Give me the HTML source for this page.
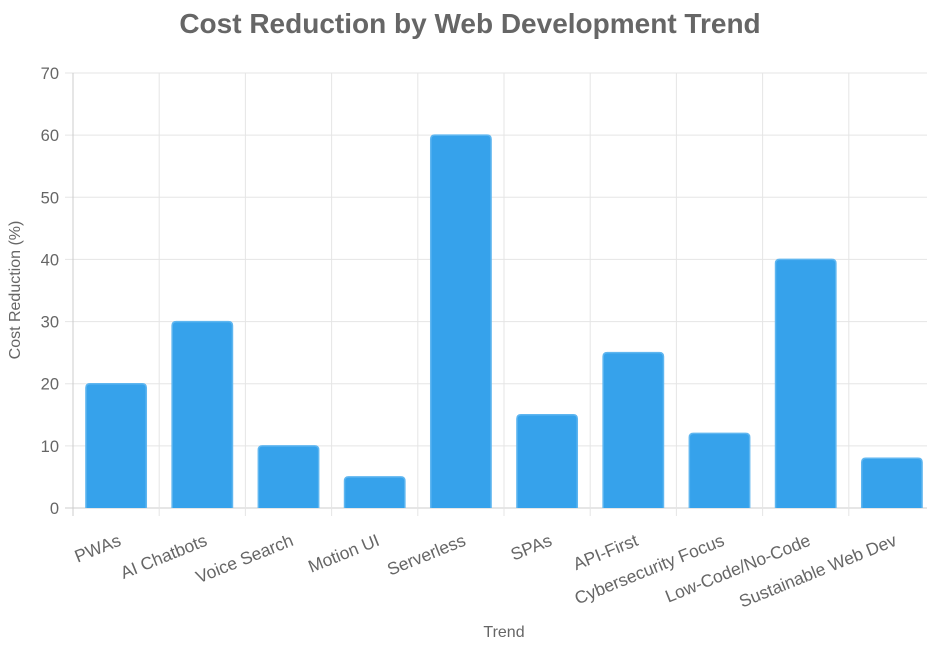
<!DOCTYPE html>
<html><head><meta charset="utf-8"><style>
html,body{margin:0;padding:0;background:#fff;}
svg{display:block;font-family:"Liberation Sans",Arial,sans-serif;}
</style></head><body>
<svg id="chart" width="927" height="646">
<text x="470" y="33" text-anchor="middle" font-size="28" font-weight="bold" fill="#666">Cost Reduction by Web Development Trend</text>
<g id="grid"></g><g id="bars"></g><g id="labels"></g>
<text transform="translate(20,290) rotate(-90)" text-anchor="middle" font-size="16" fill="#666">Cost Reduction (%)</text>
<text x="504" y="637" text-anchor="middle" font-size="16" fill="#666">Trend</text>
</svg>
<script>
const categories=["PWAs","AI Chatbots","Voice Search","Motion UI","Serverless","SPAs","API-First","Cybersecurity Focus","Low-Code/No-Code","Sustainable Web Dev"];
const values=[20,30,10,5,60,15,25,12,40,8];
const yTicks=[0,10,20,30,40,50,60,70];
const NS="http://www.w3.org/2000/svg";
const L=73,R=935,T=73,B=508,yMax=70;
const bw=(R-L)/categories.length;
const y=v=>B-(v/yMax)*(B-T);
const x=i=>L+i*bw;
function mk(tag,attrs,parent){const e=document.createElementNS(NS,tag);for(const k in attrs)e.setAttribute(k,attrs[k]);parent.appendChild(e);return e;}
const g=document.getElementById('grid'),gb=document.getElementById('bars'),gl=document.getElementById('labels');
yTicks.forEach(t=>{
 const ln=mk('line',{x1:L-8,x2:R,y1:y(t),y2:y(t),stroke:t===0?'#ccc':'#e5e5e5','stroke-width':1},g);
 
 
 const tx=mk('text',{x:L-14,y:y(t)+6,'text-anchor':'end','font-size':16.5,fill:'#666'},gl);
 tx.textContent=t;
 
 
});
for(let i=0;i<=categories.length;i++){
 const ln=mk('line',{x1:x(i),x2:x(i),y1:T,y2:B+8,stroke:i===0?'#ccc':'#e5e5e5','stroke-width':1},g);
 
 
}
categories.forEach((c,i)=>{
 const w=bw*0.7,bx=x(i)+(bw-w)/2;
 const r=mk('path',{d:`M${bx},${B} V${y(values[i])+4} Q${bx},${y(values[i])} ${bx+4},${y(values[i])} H${bx+w-4} Q${bx+w},${y(values[i])} ${bx+w},${y(values[i])+4} V${B}`,fill:'#36a2eb',stroke:'#5fb6f0','stroke-width':1.5},gb);
 
 
 const cx=x(i)+bw/2, ty=B+22;
 const tx=mk('text',{x:cx,y:ty,'text-anchor':'end','dominant-baseline':'text-before-edge','font-size':17.5,fill:'#666',transform:`rotate(-22 ${cx} ${ty})`},gl);
 tx.textContent=c;
 
 
});
</script>
</body></html>
